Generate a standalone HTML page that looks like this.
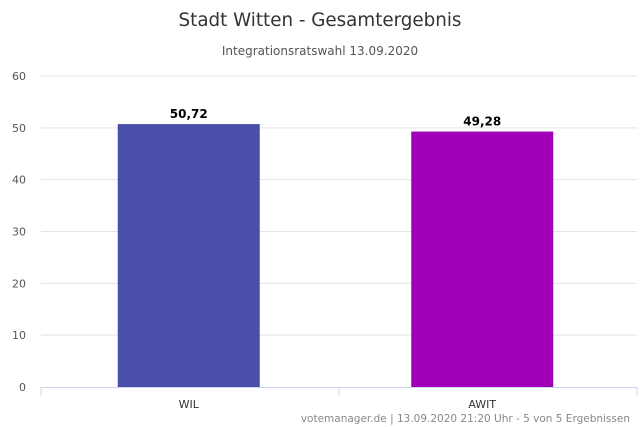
<!DOCTYPE html>
<html><head><meta charset="utf-8"><style>
body{margin:0;background:#fff;font-family:"DejaVu Sans","Liberation Sans",sans-serif;}
svg{display:block}
</style></head><body>
<svg id="c" width="640" height="427">
<text x="320" y="26" text-anchor="middle" font-size="18.3" fill="#333">Stadt Witten - Gesamtergebnis</text>
<text x="320" y="55" text-anchor="middle" font-size="12" fill="#555">Integrationsratswahl 13.09.2020</text>
<text x="630" y="422" text-anchor="end" font-size="10.5" fill="#888">votemanager.de | 13.09.2020 21:20 Uhr - 5 von 5 Ergebnissen</text>
</svg>
<script>
const categories=["WIL","AWIT"];
const values=[50.72,49.28];
const labels=["50,72","49,28"];
const colors=["#4a4fab","#a100b8"];
const ticks=[0,10,20,30,40,50,60];
const svg=document.getElementById('c');
const NS="http://www.w3.org/2000/svg";
const x0=42,x1=629,y0=387,yTop=76,yMax=60;
const ax0=41,ax1=637;
const y=v=>y0-(v/yMax)*(y0-yTop);
const cw=(x1-x0)/categories.length;
function mk(t,a){const e=document.createElementNS(NS,t);for(const k in a)e.setAttribute(k,a[k]);svg.appendChild(e);return e;}
ticks.forEach(t=>{
  if(t>0){const l=mk('line',{x1:ax0,x2:ax1,y1:y(t),y2:y(t),stroke:'#e3e3e3'});
  
  }
  const tx=mk('text',{x:26,y:y(t)+4,'text-anchor':'end','font-size':11,fill:'#555'});
  tx.textContent=t;
  
  
});
const ax=mk('line',{x1:ax0,x2:ax1,y1:y0+0.5,y2:y0+0.5,stroke:'#ccd6eb'});


const acw=(ax1-ax0)/categories.length;
for(let i=0;i<=categories.length;i++){
  const tk=mk('line',{x1:ax0+i*acw,x2:ax0+i*acw,y1:y0,y2:y0+9,stroke:'#ccd6eb'});
  
  
}
categories.forEach((c,i)=>{
  const cx=x0+cw*(i+0.5),bw=142;
  const b=mk('rect',{x:cx-bw/2,y:y(values[i]),width:bw,height:y0-y(values[i]),fill:colors[i]});
  
  
  const v=mk('text',{x:cx,y:y(values[i])-6,'text-anchor':'middle','font-size':12,'font-weight':'bold',fill:'#000'});
  v.textContent=labels[i];
  
  
  const t=mk('text',{x:cx,y:y0+21,'text-anchor':'middle','font-size':11,fill:'#333'});
  t.textContent=c;
  
  
});
</script>
</body></html>
